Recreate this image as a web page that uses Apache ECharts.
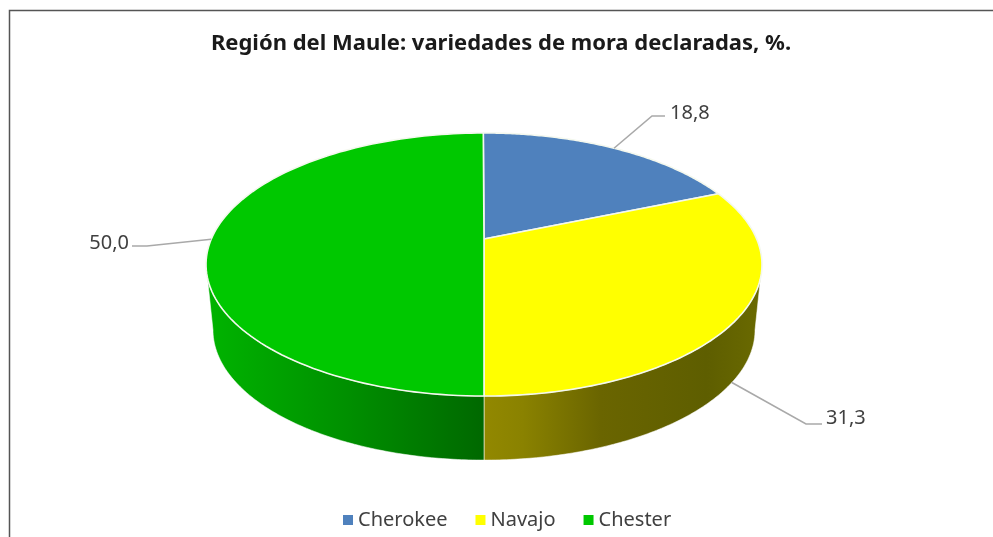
<!DOCTYPE html>
<html><head><meta charset="utf-8">
<style>html,body{margin:0;padding:0;background:#fff}#c{width:993px;height:537px}</style>
<script src="https://cdn.jsdelivr.net/npm/echarts@6/dist/echarts.min.js"></script>
</head><body><div id="c"></div>
<script>
const titleText = 'Región del Maule: variedades de mora declaradas, %.';
const categories = ['Cherokee', 'Navajo', 'Chester'];
const values = [18.8, 31.3, 50.0];
const colors = ['#4f81bd', '#ffff00', '#00c800'];

// Perspective model of the disc
const CX = 484, HUB_Y = 239, F = 272.7, G = 126.6, K = 0.194;
const BASE_SX = 0.975, BASE_SY = 0.99, BASE_HUB_Y = 304.6;
const total = values.reduce((a, b) => a + b, 0);
// the printed values add up to 100.1: turn the disc by half of the excess
const START = -(total - 100) / 2 / total * 2 * Math.PI;
function topPt(t) {
  const d = 1 + K * Math.cos(t);
  return [CX + F * Math.sin(t) / d, HUB_Y - G * Math.cos(t) / d];
}
function basePt(t) {
  const p = topPt(t);
  return [CX + (p[0] - CX) * BASE_SX, BASE_HUB_Y + (p[1] - HUB_Y) * BASE_SY];
}
const TANGENT = Math.acos(-K);
const sideStyle = [
  null,
  [[0, '#928800'], [0.14, '#8a8200'], [0.42, '#6a6500'], [0.8, '#5e5e00'], [1, '#6a6a00']],
  [[0, '#00b400'], [0.5, '#009000'], [1, '#006800']]
];
const labelPath = [
  { rim: 'top', elbow: [652, 116], end: [665, 116], tx: 670, ty: 113, align: 'left' },
  { rim: 'base', elbow: [806, 424], end: [822, 424], tx: 826, ty: 418, align: 'left' },
  { rim: 'top', elbow: [147, 246], end: [132, 246], tx: 129, ty: 243, align: 'right' }
];

function drawSlice(i) {
  let before = 0;
  for (let j = 0; j < i; j++) before += values[j];
  const a0 = START + before / total * 2 * Math.PI, a1 = START + (before + values[i]) / total * 2 * Math.PI;
  const N = 120, children = [];
  // side wall, only on the part of the rim that faces the viewer
  const w0 = Math.max(a0, TANGENT), w1 = Math.min(a1, 2 * Math.PI - TANGENT);
  if (w1 > w0 && sideStyle[i]) {
    const up = [], low = [];
    for (let n = 0; n <= N; n++) {
      const t = w0 + (w1 - w0) * n / N;
      up.push(topPt(t)); low.unshift(basePt(t));
    }
    const pts = up.concat(low);
    children.push({
      type: 'polygon', shape: { points: pts },
      style: {
        fill: new echarts.graphic.LinearGradient(0, 0, 1, 0, sideStyle[i].map(s => ({ offset: s[0], color: s[1] }))),
        stroke: 'rgba(255,255,255,0.55)', lineWidth: 1
      }
    });
  }
  // top face
  const face = [[CX, HUB_Y]];
  for (let n = 0; n <= N; n++) face.push(topPt(a0 + (a1 - a0) * n / N));
  children.push({
    type: 'polygon', shape: { points: face },
    style: { fill: colors[i], stroke: '#f4f8ee', lineWidth: 1.6, lineJoin: 'round' }
  });
  // leader line and value label
  const mid = (a0 + a1) / 2, lp = labelPath[i];
  const start = lp.rim === 'top' ? topPt(mid) : basePt(mid);
  children.push({
    type: 'polyline', shape: { points: [start, lp.elbow, lp.end] },
    style: { fill: 'none', stroke: '#a9a9a9', lineWidth: 1.6 }, z2: 5
  });
  children.push({
    type: 'text', x: lp.tx, y: lp.ty,
    style: {
      text: values[i].toFixed(1).replace('.', ','), fill: '#404040',
      font: '20px "Noto Sans"', align: lp.align, verticalAlign: 'middle'
    }, z2: 5
  });
  return { type: 'group', children };
}

const chart = echarts.init(document.getElementById('c'), null, { renderer: 'canvas' });
chart.setOption({
  animation: false,
  backgroundColor: '#ffffff',
  title: {
    text: titleText, left: 496, top: 28, textAlign: 'center',
    textStyle: { fontFamily: 'Noto Sans', fontSize: 22, fontWeight: 'bold', color: '#1a1a1a' }
  },
  legend: {
    data: categories, left: 338, top: 505, icon: 'rect', itemWidth: 10, itemHeight: 10, itemGap: 28,
    textStyle: { fontFamily: 'Noto Sans', fontSize: 20, color: '#404040' }
  },
  graphic: [{
    type: 'polyline', silent: true,
    shape: { points: [[9.5, 537], [9.5, 10.5], [993, 10.5]] },
    style: { fill: 'none', stroke: '#555555', lineWidth: 1.5 }
  }],
  series: categories.map((name, i) => ({
    type: 'custom', name, coordinateSystem: 'none', silent: true,
    z: 2,
    itemStyle: { color: colors[i] },
    data: [values[i]],
    renderItem: () => drawSlice(i)
  }))
});
</script></body></html>
